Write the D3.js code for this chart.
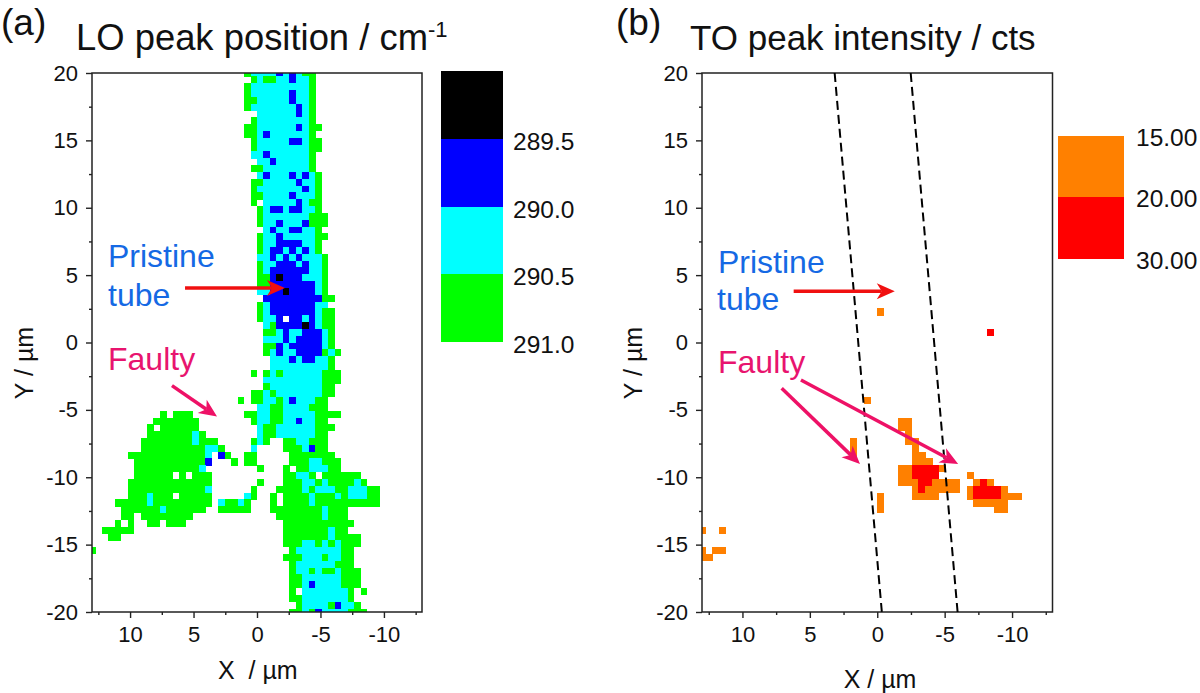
<!DOCTYPE html>
<html>
<head>
<meta charset="utf-8">
<title>LO and TO Raman maps</title>
<script src="https://cdn.jsdelivr.net/npm/d3@7"></script>
<style>
	html, body { margin: 0; padding: 0; background: #fff; }
	svg { display: block; }
	text { font-family: "Liberation Sans", Arial, sans-serif; fill: #111; }
	.axis path, .axis line { stroke: #222; stroke-width: 1.4; }
</style>
</head>
<body>
<svg id="vis" width="1200" height="693"></svg>
<script>

// map grid: 52 columns from x=13 to x=-13, 80 rows from y=20 to y=-20
var COLS = 52, ROWS = 80;

// each row is a list of runs: start column + class, '.' means no data
// g: 291.0, c: 290.5, b: 290.0, k: 289.5
var loRows = [
	"24g 25c 29b 30c 31b 32c 33g 35.",
	"25g 26c 27g 29c 31b 32c 34g 35.",
	"24g 25c 34g 35.",
	"24g 25c 31b 32c 34g 35.",
	"24g 26c 31b 32c 34g 35.",
	"24g 25c 32b 33c 34g 35.",
	"26c 32b 33c 34g 35.",
	"25g 26c 34g 35.",
	"24g 26c 32b 33c 34g 36.",
	"24g 26c 27b 28c 34g 35.",
	"25g 26c 31b 33c 34g 36.",
	"25g 26c 34g 36.",
	"25c 27b 28c 34g 35.",
	"26c 28b 29c 34g 35.",
	"25g 27c 34g 35.",
	"26c 27b 28c 31b 32c 33b 34c 35g 36.",
	"25g 27c 32b 33c 35g 36.",
	"25g 26c 33b 34c 35g 36.",
	"25g 27c 31b 32c 35g 36.",
	"25g 26. 27c 32b 33c 34g 36.",
	"26g 27c 28b 30c 31b 33c 35g 36.",
	"26g 27c 34g 37.",
	"26g 27c 29b 30c 33b 34g 37.",
	"27c 28b 29c 31b 33c 35g 36.",
	"26g 27c 29b 30c 35g 37.",
	"26g 27c 29b 33c 35g 36.",
	"26g 27c 28b 30c 31b 32c 33b 34c 35g 36.",
	"26c 28b 29c 30b 31c 32b 33c 36g 37.",
	"26g 27c 29b 32c 33b 34c 36g 37.",
	"26g 27c 28b 34c 36g 37.",
	"26g 28b 29k 30b 33c 36g 37.",
	"26g 28b 35c 36g 37.",
	"26c 28b 30k 31b 35c 36g 37.",
	"27b 36g 38.",
	"26g 27c 28b 35c 37.",
	"26g 27c 28b 35c 36g 38.",
	"26g 27c 29b 30. 31b 33c 34b 35c 36g 38.",
	"27c 28g 29b 33k 34b 35c 36g 38.",
	"27g 29c 30b 31c 33b 36c 37g 38.",
	"27c 30b 31c 32b 36c 37g 38.",
	"27g 29b 30c 31b 36c 37g 38.",
	"27g 28c 29b 30c 32b 36g 37c 38g 39.",
	"28c 31b 32c 33b 35c 37g 38.",
	"28c 37g 38.",
	"25g 26. 27g 28c 29g 30c 36g 39.",
	"27c 36g 39.",
	"27g 28c 36g 38.",
	"25g 27c 28g 29c 36g 38.",
	"23g 24. 25g 27c 29g 30c 31b 32c 35g 37.",
	"26c 28g 30c 34g 37.",
	"11g 12. 13g 16. 24g 26c 28g 30c 35g 39.",
	"10g 17. 25g 26c 28g 30c 32b 33c 35g 37.",
	"9g 10. 11g 17. 26c 27g 29c 35g 38.",
	"9g 16c 17g 18. 26c 27g 29c 35g 37.",
	"8g 16c 17g 20. 25g 26c 27g 28. 30g 32c 34g 37.",
	"8g 18c 20g 21. 25c 26. 30g 33c 34b 35g 37.",
	"6g 18c 19. 20b 21g 22. 24g 26. 31g 38.",
	"7g 18b 19. 22g 23. 24g 26. 31g 34c 36g 39.",
	"7g 17c 18. 26g 27. 30g 31. 32g 34c 37g 39.",
	"7g 13. 14g 15. 16g 19. 30g 32c 34g 35. 36g 42.",
	"6g 19. 26g 27. 30g 33c 35g 36c 37g 41c 42g 43.",
	"6g 18c 19. 25g 26. 29g 33c 34g 35c 38g 40c 43g 45.",
	"6g 9c 10g 13. 14g 19. 24c 25g 26. 28g 29. 30g 34c 35g 38c 39g 40c 43g 45.",
	"4g 9c 10g 19. 20c 21g 23c 24g 25. 28g 29. 30g 34c 35g 45.",
	"5g 11c 12g 18. 20g 25. 28g 36c 37g 40.",
	"5g 7. 8g 16. 29g 36c 37g 40.",
	"4g 5. 6g 7. 9g 11. 12g 15. 30g 41.",
	"2g 7. 30g 37c 38g 40.",
	"3g 5. 30g 37c 38g 42.",
	"30g 33c 35g 36c 37g 38c 39g 42.",
	"0g 1. 31g 32c 39g 41.",
	"30g 33c 36g 37c 39g 41.",
	"31g 32c 38g 41.",
	"31g 32c 34g 35c 36g 38c 39g 42.",
	"31g 33c 39g 42.",
	"31g 33c 34b 35c 39g 42.",
	"31g 32. 33c 40g 41. 42g 43.",
	"31g 33c 40g 41.",
	"32g 33c 37g 38b 39c 41g 42.",
	"31g 33c 34g 35b 36c 40g 43."
];

// o: 15-20 cts, r: 20-30 cts (rows not listed have no cell above threshold)
var toRowIndex = [35, 38, 48, 51, 52, 53, 54, 55, 56, 57, 58, 59, 60, 61, 62, 63, 64, 67, 70, 71];
var toRows = [
	"26o 27.",
	"42r 43.",
	"24o 25.",
	"29o 31.",
	"29o 31.",
	"30o 31.",
	"22o 23. 30o 32.",
	"22o 23. 31o 32.",
	"22o 23. 31o 33.",
	"31o 34.",
	"29o 31r 35o 36.",
	"29o 31r 35. 39o 40.",
	"29o 32r 34o 38. 40o 41r 42o 43.",
	"31o 32r 33o 38. 39o 40r 44o 45.",
	"26o 27. 31o 35. 39o 40r 44o 47.",
	"26o 27. 40o 45.",
	"26o 27. 43o 45.",
	"0o 1. 3o 4.",
	"0o 1. 2o 4.",
	"0o 2."
];

var xMajor = [10, 5, 0, -5, -10];
var xMinor = [12.5, 7.5, 2.5, -2.5, -7.5, -12.5];
var yMajor = [20, 15, 10, 5, 0, -5, -10, -15, -20];
var yMinor = [17.5, 12.5, 7.5, 2.5, -2.5, -7.5, -12.5, -17.5];

var loLegendCodes = ["k", "b", "c", "g"];
var loLegendLabels = ["289.5", "290.0", "290.5", "291.0"];
var toLegendCodes = ["o", "r"];
var toLegendLabels = ["15.00", "20.00", "30.00"];

// annotation arrows in axis units: [x1, y1, x2, y2]
var loPristineArrow = [5.67, 4.05, -2.2, 4.05];
var loFaultyArrow = [6.7, -3.2, 3.15, -5.5];
var toPristineArrow = [6.2, 3.8, -1.3, 3.8];
var toFaultyArrows = [[7.09, -3.4, 1.28, -9.01], [5.66, -2.78, -6.0, -9.01]];

// tube edges in panel b: [x at y=20, x at y=-20]
var tubeEdges = [[3.16, -0.34], [-2.48, -5.96]];

var colors = d3.scaleOrdinal()
	.domain(["g", "c", "b", "k", "o", "r"])
	.range(["#00ff00", "#00ffff", "#0000ff", "#000000", "#ff8000", "#ff0000"]);

var BLUE_TEXT = "#1569e4", PINK_TEXT = "#e8146e", RED_ARROW = "#f01010", PINK_ARROW = "#ee1166";

var vis = d3.select("#vis");

// turn the run lists into one cell per grid position
function expandRuns(rowStrings, rowIndex)
{
	var cells = [];
	rowStrings.forEach(function(s, i) {
		var row = rowIndex ? rowIndex[i] : i;
		var tokens = s.split(" ");
		tokens.forEach(function(t, n) {
			var code = t.slice(-1);
			if (code == ".") return;
			var start = +t.slice(0, -1);
			var end = n < tokens.length-1 ? parseInt(tokens[n+1]) : start+1;
			for (var c = start; c < end; c++)
				cells.push({col: c, row: row, code: code});
		});
	});
	return cells;
}

function drawPanel(p)
{
	var x = d3.scaleLinear().domain([13, -13]).range([p.left, p.right]);
	var y = d3.scaleLinear().domain([20, -20]).range([p.top, p.bottom]);
	var colX = d3.scaleLinear().domain([0, COLS-1]).range([13, -13]);
	var rowY = d3.scaleLinear().domain([0, ROWS-1]).range([20, -20]);
	var cellW = (p.right-p.left)/(COLS-1);
	var cellH = (p.bottom-p.top)/(ROWS-1);

	var group = vis.append("g");
	var clipId = "clip" + p.name;
	group.append("clipPath").attr("id", clipId).append("rect")
		.attr("x", p.left).attr("y", p.top)
		.attr("width", p.right-p.left).attr("height", p.bottom-p.top);

	group.append("g")
		.attr("clip-path", "url(#" + clipId + ")")
		.attr("shape-rendering", "crispEdges")
		.selectAll("rect").data(p.cells).enter().append("rect")
		.attr("x", function(d) { return x(colX(d.col)) - cellW/2; })
		.attr("y", function(d) { return y(rowY(d.row)) - cellH/2; })
		.attr("width", cellW+0.3)
		.attr("height", cellH+0.3)
		.attr("fill", function(d) { return colors(d.code); });

	// minor and major ticks
	[[d3.axisBottom(x).tickValues(xMinor).tickSize(3).tickFormat(""), "translate(0," + p.bottom + ")"],
	 [d3.axisLeft(y).tickValues(yMinor).tickSize(3).tickFormat(""), "translate(" + p.left + ",0)"],
	 [d3.axisBottom(x).tickValues(xMajor).tickSize(6).tickPadding(8).tickFormat(String), "translate(0," + p.bottom + ")"],
	 [d3.axisLeft(y).tickValues(yMajor).tickSize(6).tickPadding(8).tickFormat(String), "translate(" + p.left + ",0)"]
	].forEach(function(a) {
		var g = group.append("g").attr("class", "axis").attr("transform", a[1]).call(a[0]);
		g.select(".domain").remove();
		g.selectAll("text").style("font-size", "22px").style("font-family", "'Liberation Sans'");
		g.selectAll("line").attr("stroke", "#222");
	});

	group.append("rect")
		.attr("x", p.left).attr("y", p.top)
		.attr("width", p.right-p.left).attr("height", p.bottom-p.top)
		.attr("fill", "none").attr("stroke", "#222").attr("stroke-width", 1.5);

	p.x = x; p.y = y; p.group = group;
}

function addText(str, tx, ty, size, color)
{
	return vis.append("text")
		.attr("x", tx).attr("y", ty)
		.style("font-size", size + "px")
		.style("fill", color || "#111")
		.text(str);
}

function arrow(p, a, color)
{
	var x1 = p.x(a[0]), y1 = p.y(a[1]), x2 = p.x(a[2]), y2 = p.y(a[3]);
	var ang = Math.atan2(y2-y1, x2-x1);
	var LEN = 18, HALF = 8, NOTCH = 13;
	function pt(along, side) {
		return [x2 - along*Math.cos(ang) - side*Math.sin(ang),
		        y2 - along*Math.sin(ang) + side*Math.cos(ang)];
	}
	var neck = pt(NOTCH, 0);
	p.group.append("line")
		.attr("x1", x1).attr("y1", y1).attr("x2", neck[0]).attr("y2", neck[1])
		.attr("stroke", color).attr("stroke-width", 3.5);
	p.group.append("path")
		.attr("d", d3.line()([pt(0, 0), pt(LEN, HALF), neck, pt(LEN, -HALF)]) + "Z")
		.attr("fill", color);
}

// panel a
var panelA = {name: "A", left: 92, right: 422, top: 73, bottom: 612, cells: expandRuns(loRows)};
drawPanel(panelA);

addText("(a)", 1, 35, 37);
var titleA = addText("LO peak position / cm", 76, 50, 36.4);
titleA.append("tspan").attr("dy", -13).style("font-size", "22px").text("-1");

addText("Pristine", 108, 267, 32, BLUE_TEXT);
addText("tube", 108, 306, 32, BLUE_TEXT);
addText("Faulty", 108, 370, 32, PINK_TEXT);
arrow(panelA, loPristineArrow, RED_ARROW);
arrow(panelA, loFaultyArrow, PINK_ARROW);

addText("X  / µm", 218, 679, 25).style("white-space", "pre");
addText("Y / µm", 0, 0, 25)
	.attr("text-anchor", "middle")
	.attr("transform", "translate(33,363) rotate(-90)");

// legend for panel a
var legendAY = d3.scaleBand().domain(loLegendCodes).range([71, 342]);
vis.append("g").attr("shape-rendering", "crispEdges").selectAll("rect").data(loLegendCodes).enter().append("rect")
	.attr("x", 441).attr("width", 62)
	.attr("y", function(d) { return legendAY(d); })
	.attr("height", legendAY.bandwidth())
	.attr("fill", function(d) { return colors(d); });
loLegendCodes.forEach(function(c, i) {
	addText(loLegendLabels[i], 513, legendAY(c) + legendAY.bandwidth() + 11, 24.5);
});

// panel b
var panelB = {name: "B", left: 702, right: 1052.5, top: 73, bottom: 612, cells: expandRuns(toRows, toRowIndex)};
drawPanel(panelB);

addText("(b)", 616, 35, 37);
addText("TO peak intensity / cts", 690, 50, 35);

tubeEdges.forEach(function(e) {
	panelB.group.append("line")
		.attr("x1", panelB.x(e[0])).attr("y1", panelB.y(20))
		.attr("x2", panelB.x(e[1])).attr("y2", panelB.y(-20))
		.attr("stroke", "#000").attr("stroke-width", 2)
		.attr("stroke-dasharray", "9,5");
});

addText("Pristine", 718, 273, 32, BLUE_TEXT);
addText("tube", 717, 310, 32, BLUE_TEXT);
addText("Faulty", 718, 373, 32, PINK_TEXT);
arrow(panelB, toPristineArrow, RED_ARROW);
toFaultyArrows.forEach(function(a) { arrow(panelB, a, PINK_ARROW); });

addText("X / µm", 880, 688, 25).attr("text-anchor", "middle");
addText("Y / µm", 0, 0, 25)
	.attr("text-anchor", "middle")
	.attr("transform", "translate(642,363) rotate(-90)");

// legend for panel b
var legendBY = d3.scaleBand().domain(toLegendCodes).range([135.5, 258.5]);
vis.append("g").attr("shape-rendering", "crispEdges").selectAll("rect").data(toLegendCodes).enter().append("rect")
	.attr("x", 1058).attr("width", 66)
	.attr("y", function(d) { return legendBY(d); })
	.attr("height", legendBY.bandwidth())
	.attr("fill", function(d) { return colors(d); });
toLegendLabels.forEach(function(t, i) {
	addText(t, 1136, 135.5 + i*legendBY.bandwidth() + 10, 24.5);
});

</script>
</body>
</html>
